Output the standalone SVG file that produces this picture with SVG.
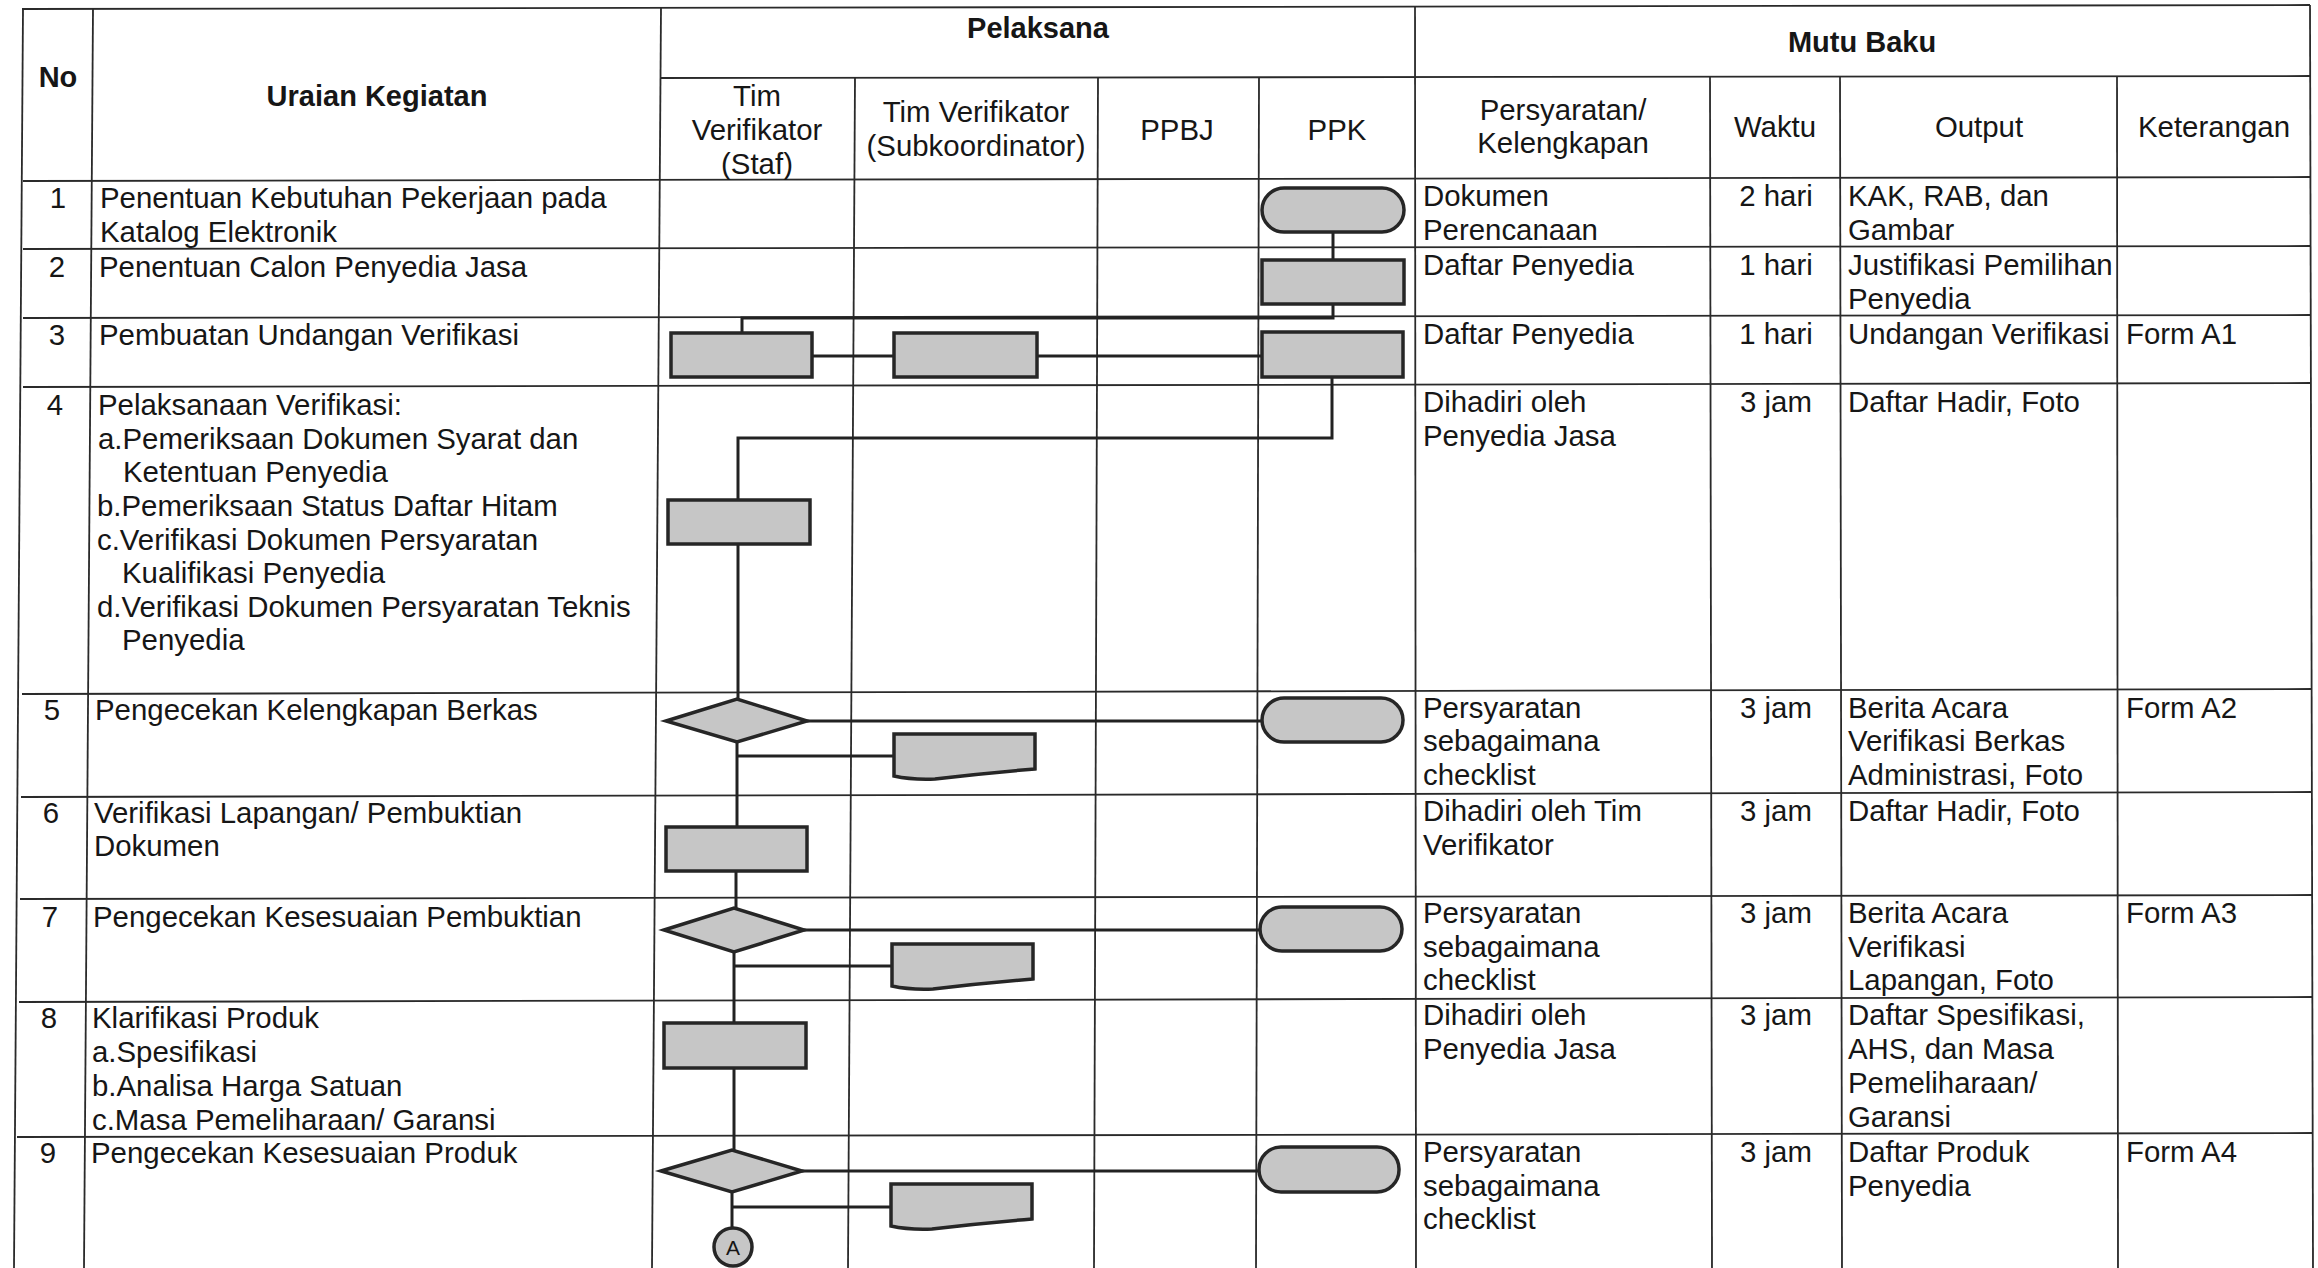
<svg xmlns="http://www.w3.org/2000/svg" width="2318" height="1268" viewBox="0 0 2318 1268">
<defs>
<style>
.g line{stroke:#2a2a2a;stroke-width:1.8}
.cn path{stroke:#222;stroke-width:3;fill:none}
.s{fill:#c6c6c6;stroke:#262626;stroke-width:3.5}
text{font-family:"Liberation Sans",Arial,sans-serif;font-size:29.4px;fill:#161616}
.b{font-weight:bold;font-size:29px}
.c{text-anchor:middle}
</style>
</defs>
<rect width="2318" height="1268" fill="#ffffff"/>
<g id="grid" class="g">
<line x1="22" y1="9" x2="2310" y2="5"/>
<line x1="661" y1="78" x2="2310" y2="76"/>
<line x1="23" y1="181" x2="2310" y2="177"/>
<line x1="23" y1="249" x2="2310" y2="246"/>
<line x1="23" y1="318" x2="2310" y2="315"/>
<line x1="23" y1="387" x2="2310" y2="383"/>
<line x1="22" y1="694" x2="2312" y2="689"/>
<line x1="21" y1="797" x2="2312" y2="792"/>
<line x1="20" y1="899" x2="2312" y2="895"/>
<line x1="19" y1="1002" x2="2313" y2="997"/>
<line x1="17" y1="1137" x2="2313" y2="1133"/>
<line x1="23" y1="9" x2="14" y2="1268"/>
<line x1="93" y1="9" x2="84" y2="1268"/>
<line x1="661" y1="8" x2="652" y2="1268"/>
<line x1="855" y1="78" x2="848" y2="1268"/>
<line x1="1098" y1="78" x2="1094" y2="1268"/>
<line x1="1259" y1="78" x2="1256" y2="1268"/>
<line x1="1415" y1="6" x2="1416" y2="1268"/>
<line x1="1710" y1="77" x2="1712" y2="1268"/>
<line x1="1840" y1="77" x2="1842" y2="1268"/>
<line x1="2117" y1="77" x2="2118" y2="1268"/>
<line x1="2310" y1="5" x2="2313" y2="1268"/>
</g>
<g id="header">
<text class="b c" x="58" y="87">No</text>
<text class="b c" x="377" y="106">Uraian Kegiatan</text>
<text class="b c" x="1038" y="38">Pelaksana</text>
<text class="b c" x="1862" y="52">Mutu Baku</text>
<text class="c" x="757" y="106">Tim</text>
<text class="c" x="757" y="140">Verifikator</text>
<text class="c" x="757" y="174">(Staf)</text>
<text class="c" x="976" y="122">Tim Verifikator</text>
<text class="c" x="976" y="156">(Subkoordinator)</text>
<text class="c" x="1177" y="140">PPBJ</text>
<text class="c" x="1337" y="140">PPK</text>
<text class="c" x="1563" y="120">Persyaratan/</text>
<text class="c" x="1563" y="153">Kelengkapan</text>
<text class="c" x="1775" y="137">Waktu</text>
<text class="c" x="1979" y="137">Output</text>
<text class="c" x="2214" y="137">Keterangan</text>
</g>
<g id="rows-left">
<text class="c" x="58" y="208">1</text>
<text x="100" y="208">Penentuan Kebutuhan Pekerjaan pada</text>
<text x="100" y="242">Katalog Elektronik</text>
<text class="c" x="57" y="277">2</text>
<text x="99" y="277">Penentuan Calon Penyedia Jasa</text>
<text class="c" x="57" y="345">3</text>
<text x="99" y="345">Pembuatan Undangan Verifikasi</text>
<text class="c" x="55" y="415">4</text>
<text x="98" y="415">Pelaksanaan Verifikasi:</text>
<text x="98" y="449">a.Pemeriksaan Dokumen Syarat dan</text>
<text x="123" y="482">Ketentuan Penyedia</text>
<text x="97" y="516">b.Pemeriksaan Status Daftar Hitam</text>
<text x="97" y="550">c.Verifikasi Dokumen Persyaratan</text>
<text x="122" y="583">Kualifikasi Penyedia</text>
<text x="97" y="617">d.Verifikasi Dokumen Persyaratan Teknis</text>
<text x="122" y="650">Penyedia</text>
<text class="c" x="52" y="720">5</text>
<text x="95" y="720">Pengecekan Kelengkapan Berkas</text>
<text class="c" x="51" y="823">6</text>
<text x="94" y="823">Verifikasi Lapangan/ Pembuktian</text>
<text x="94" y="856">Dokumen</text>
<text class="c" x="50" y="927">7</text>
<text x="93" y="927">Pengecekan Kesesuaian Pembuktian</text>
<text class="c" x="49" y="1028">8</text>
<text x="92" y="1028">Klarifikasi Produk</text>
<text x="92" y="1062">a.Spesifikasi</text>
<text x="92" y="1096">b.Analisa Harga Satuan</text>
<text x="92" y="1130">c.Masa Pemeliharaan/ Garansi</text>
<text class="c" x="48" y="1163">9</text>
<text x="91" y="1163">Pengecekan Kesesuaian Produk</text>
</g>
<g id="rows-right">
<text x="1423" y="206">Dokumen</text>
<text x="1423" y="240">Perencanaan</text>
<text class="c" x="1776" y="206">2 hari</text>
<text x="1848" y="206">KAK, RAB, dan</text>
<text x="1848" y="240">Gambar</text>
<text x="1423" y="275">Daftar Penyedia</text>
<text class="c" x="1776" y="275">1 hari</text>
<text x="1848" y="275">Justifikasi Pemilihan</text>
<text x="1848" y="309">Penyedia</text>
<text x="1423" y="344">Daftar Penyedia</text>
<text class="c" x="1776" y="344">1 hari</text>
<text x="1848" y="344">Undangan Verifikasi</text>
<text x="2126" y="344">Form A1</text>
<text x="1423" y="412">Dihadiri oleh</text>
<text x="1423" y="446">Penyedia Jasa</text>
<text class="c" x="1776" y="412">3 jam</text>
<text x="1848" y="412">Daftar Hadir, Foto</text>
<text x="1423" y="718">Persyaratan</text>
<text x="1423" y="751">sebagaimana</text>
<text x="1423" y="785">checklist</text>
<text class="c" x="1776" y="718">3 jam</text>
<text x="1848" y="718">Berita Acara</text>
<text x="1848" y="751">Verifikasi Berkas</text>
<text x="1848" y="785">Administrasi, Foto</text>
<text x="2126" y="718">Form A2</text>
<text x="1423" y="821">Dihadiri oleh Tim</text>
<text x="1423" y="855">Verifikator</text>
<text class="c" x="1776" y="821">3 jam</text>
<text x="1848" y="821">Daftar Hadir, Foto</text>
<text x="1423" y="923">Persyaratan</text>
<text x="1423" y="957">sebagaimana</text>
<text x="1423" y="990">checklist</text>
<text class="c" x="1776" y="923">3 jam</text>
<text x="1848" y="923">Berita Acara</text>
<text x="1848" y="957">Verifikasi</text>
<text x="1848" y="990">Lapangan, Foto</text>
<text x="2126" y="923">Form A3</text>
<text x="1423" y="1025">Dihadiri oleh</text>
<text x="1423" y="1059">Penyedia Jasa</text>
<text class="c" x="1776" y="1025">3 jam</text>
<text x="1848" y="1025">Daftar Spesifikasi,</text>
<text x="1848" y="1059">AHS, dan Masa</text>
<text x="1848" y="1093">Pemeliharaan/</text>
<text x="1848" y="1127">Garansi</text>
<text x="1423" y="1162">Persyaratan</text>
<text x="1423" y="1196">sebagaimana</text>
<text x="1423" y="1229">checklist</text>
<text class="c" x="1776" y="1162">3 jam</text>
<text x="1848" y="1162">Daftar Produk</text>
<text x="1848" y="1196">Penyedia</text>
<text x="2126" y="1162">Form A4</text>
</g>
<g id="connectors" class="cn">
<path d="M1333,232 V260"/>
<path d="M1333,304 V318 H742 V333"/>
<path d="M812,356 H894"/>
<path d="M1037,356 H1262"/>
<path d="M1332,377 V438 H738 V500"/>
<path d="M738,544 V699"/>
<path d="M807,721 H1262"/>
<path d="M737,742 V827"/>
<path d="M737,756 H894"/>
<path d="M736,871 V908"/>
<path d="M804,930 H1260"/>
<path d="M734,952 V1023"/>
<path d="M734,966 H892"/>
<path d="M734,1068 V1150"/>
<path d="M802,1171 H1259"/>
<path d="M732,1192 V1228"/>
<path d="M732,1207 H891"/>
</g>
<g id="n1-ppk"><rect class="s" x="1262" y="188" width="142" height="44" rx="22"/></g>
<g id="n2-ppk"><rect class="s" x="1262" y="260" width="142" height="44"/></g>
<g id="n3-tim"><rect class="s" x="671" y="333" width="141" height="44"/></g>
<g id="n3-sub"><rect class="s" x="894" y="333" width="143" height="44"/></g>
<g id="n3-ppk"><rect class="s" x="1262" y="332" width="141" height="45"/></g>
<g id="n4-tim"><rect class="s" x="668" y="500" width="142" height="44"/></g>
<g id="n5-dec"><polygon class="s" points="666,721 737,699 807,721 737,742"/></g>
<g id="n5-doc"><path class="s" d="M894,734 H1035 V769 Q985,773 935,779 Q912,780 894,776 Z"/></g>
<g id="n5-ppk"><rect class="s" x="1262" y="698" width="141" height="44" rx="22"/></g>
<g id="n6-tim"><rect class="s" x="666" y="827" width="141" height="44"/></g>
<g id="n7-dec"><polygon class="s" points="664,930 734,908 804,930 734,952"/></g>
<g id="n7-doc"><path class="s" d="M892,944 H1033 V979 Q983,983 933,989 Q910,990 892,986 Z"/></g>
<g id="n7-ppk"><rect class="s" x="1260" y="907" width="142" height="44" rx="22"/></g>
<g id="n8-tim"><rect class="s" x="664" y="1023" width="142" height="45"/></g>
<g id="n9-dec"><polygon class="s" points="661,1171 732,1150 802,1171 732,1192"/></g>
<g id="n9-doc"><path class="s" d="M891,1184 H1032 V1219 Q982,1223 932,1229 Q909,1230 891,1226 Z"/></g>
<g id="n9-ppk"><rect class="s" x="1259" y="1147" width="140" height="45" rx="22"/></g>
<g id="n9-connector-A"><circle class="s" cx="733" cy="1247" r="19"/><text class="c" x="733" y="1255" style="font-size:21px">A</text></g>
</svg>
